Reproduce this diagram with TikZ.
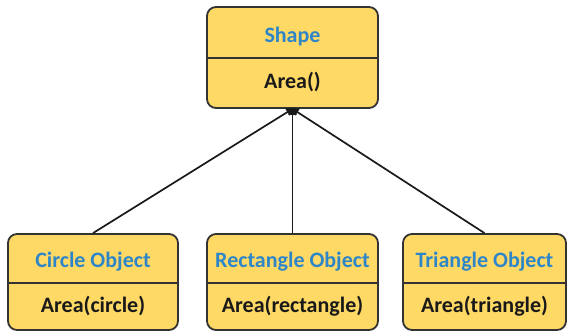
\documentclass[tikz,border=0pt]{standalone}
\usepackage{fontspec}
\setmainfont{Carlito}
\usetikzlibrary{arrows.meta}
\definecolor{boxfill}{HTML}{FFD966}
\definecolor{boxline}{HTML}{333333}
\definecolor{titleblue}{HTML}{2E86C8}
\tikzset{
  cls/.style={draw=boxline, fill=boxfill, rounded corners=9pt, line width=1.8pt, inner sep=0pt},
  ttl/.style={font=\bfseries\fontsize{22}{24}\selectfont, text=titleblue},
  mth/.style={font=\bfseries\fontsize{22}{24}\selectfont, text=black!90},
  divider/.style={draw=boxline, line width=1.8pt},
  inherit/.style={draw=black!90, line width=1.7pt, -{Triangle[length=7pt,width=8pt]}, shorten >=-1pt}
}
\begin{document}
\begin{tikzpicture}[x=1pt,y=-1pt]
\useasboundingbox (0,0) rectangle (571,333);
% parent class
\node[cls, minimum width=171pt, minimum height=101pt] (shape) at (292.5,57.5) {};
\draw[divider] (shape.west |- 0,58) -- (shape.east |- 0,58);
\node[ttl] (shapeT) at (292.5,36.5) {Shape};
\node[mth] (shapeM) at (292.5,82) {Area()};
% derived classes
\node[cls, minimum width=170pt, minimum height=96pt] (circ) at (93,282) {};
\node[cls, minimum width=171pt, minimum height=96pt] (rect) at (292.5,282) {};
\node[cls, minimum width=163pt, minimum height=96pt] (tri) at (484.5,282) {};
\foreach \b in {circ,rect,tri}
  \draw[divider] (\b.west |- 0,283) -- (\b.east |- 0,283);
\node[ttl] (circT) at (93,261.5) {Circle Object};
\node[mth] (circM) at (93,306) {Area(circle)};
\node[ttl] (rectT) at (292.5,261.5) {Rectangle Object};
\node[mth] (rectM) at (292.5,306) {Area(rectangle)};
\node[ttl] (triT) at (484.5,261.5) {Triangle Object};
\node[mth] (triM) at (484.5,306) {Area(triangle)};
% inheritance connectors
\draw[inherit] (circ.north) -- (shape.south);
\draw[inherit] (rect.north) -- (shape.south);
\draw[inherit] (tri.north) -- (shape.south);
\end{tikzpicture}
\end{document}
